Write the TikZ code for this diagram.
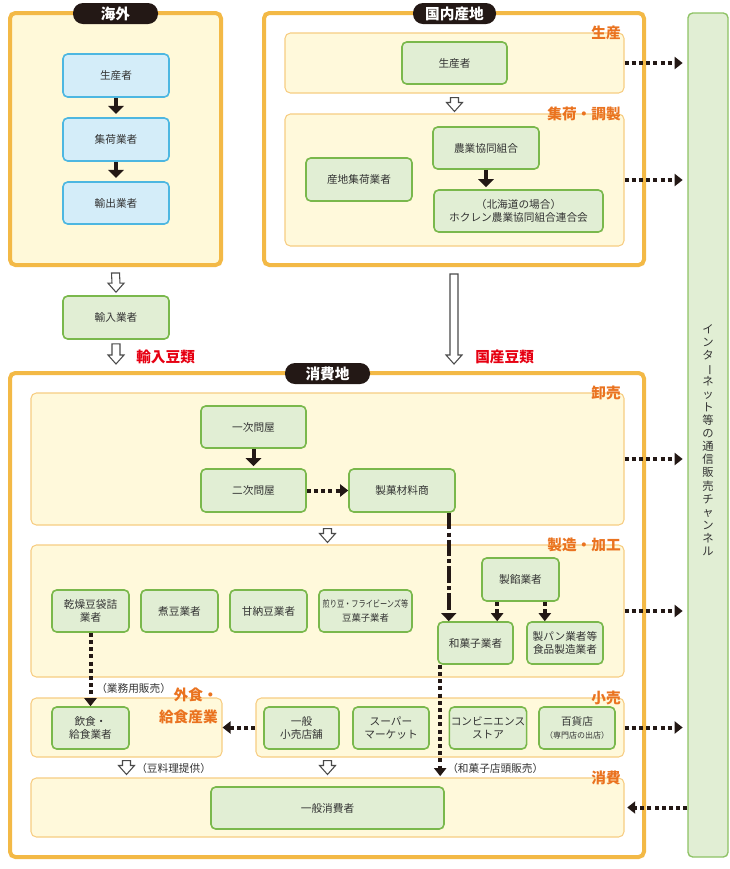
\documentclass[tikz,border=0pt]{standalone}
\usepackage{fontspec}
\setmainfont{Noto Sans CJK JP}
\usepackage{graphicx}
\usetikzlibrary{arrows.meta,calc}
\definecolor{ob}{HTML}{F3B946}
\definecolor{of}{HTML}{FFF9D9}
\definecolor{sb}{HTML}{F7CD82}
\definecolor{sf}{HTML}{FFF9DB}
\definecolor{gb}{HTML}{7AB84C}
\definecolor{gf}{HTML}{E1EED4}
\definecolor{bb}{HTML}{4DB7E1}
\definecolor{bf}{HTML}{D4EDF9}
\definecolor{cb}{HTML}{8DC264}
\definecolor{ot}{HTML}{EA7320}
\definecolor{rt}{HTML}{E60012}
\definecolor{dk}{HTML}{231815}
\definecolor{tx}{HTML}{333333}
\definecolor{ha}{HTML}{4A4A4A}
\newcommand\bx[7]{\node[#2, minimum width={(#5-#3)*0.75pt}, minimum height={(#6-#4)*0.75pt}] (#1) at ({(#3+#5)/2},{(#4+#6)/2}) {#7};}
\newcommand\harrow[2]{\draw[hollow] ($(#1)+(-4,0)$) -- ($(#2)+(-4,-9)$) -- ($(#2)+(-8,-9)$) -- (#2) -- ($(#2)+(8,-9)$) -- ($(#2)+(4,-9)$) -- ($(#1)+(4,0)$) -- cycle;}
\newcommand\vlong{\rotatebox[origin=c]{-90}{ー}}
\begin{document}
\begin{tikzpicture}[x=0.75pt, y=-0.75pt,
  every node/.style={font=\fontsize{8}{10}\selectfont, text=tx},
  outerbox/.style={draw=ob, line width=3pt, rounded corners=4pt},
  subbox/.style={draw=sb, fill=sf, line width=0.8pt, rounded corners=4pt},
  gbox/.style={draw=gb, fill=gf, line width=1.2pt, rounded corners=3.5pt, align=center, inner sep=1pt},
  bbox/.style={draw=bb, fill=bf, line width=1.2pt, rounded corners=3.5pt, align=center, inner sep=1pt},
  chbox/.style={draw=cb, fill=gf, line width=1pt, rounded corners=3.5pt},
  pill/.style={fill=dk, rounded corners=7.5pt, inner sep=0pt, text=white, font=\fontsize{11}{13}\selectfont\bfseries},
  grplabel/.style={text=ot, font=\fontsize{11}{13}\selectfont\bfseries, anchor=east, inner sep=0pt},
  redlabel/.style={text=rt, font=\fontsize{11}{13}\selectfont\bfseries, anchor=west, inner sep=0pt},
  note/.style={anchor=west, inner sep=0pt, font=\fontsize{8}{10}\selectfont},
  blk/.style={draw=dk, line width=3pt, -{Triangle[width=11.5pt,length=6pt]}},
  dotarr/.style={draw=dk, line width=3pt, dash pattern=on 3pt off 2.4pt, -{Triangle[width=9pt,length=6pt]}},
  ddarr/.style={draw=dk, line width=3pt, dash pattern=on 12.5pt off 2.3pt on 3pt off 2.3pt, -{Triangle[width=11pt,length=6pt]}},
  hollow/.style={draw=ha, fill=white, line width=0.8pt, line join=miter},
  vtext/.style={align=center, inner sep=0pt, font=\fontsize{8.5}{9.8}\selectfont}
]
\useasboundingbox (0,0) rectangle (730,869);

% outer groups
\bx{kaigai}{outerbox, fill=of}{10}{13}{221}{265}{}
\bx{kokunai}{outerbox, fill=white}{264}{13}{644}{265}{}
\bx{shohichi}{outerbox, fill=white}{10}{373}{644}{857}{}
\bx{channel}{chbox}{688}{13}{728}{857}{}
\node[vtext] (chtext) at ($(channel.center)+(0,5)$) {イ\\ン\\タ\\\vlong\\ネ\\ッ\\ト\\等\\の\\通\\信\\販\\売\\チ\\ャ\\ン\\ネ\\ル};

% header pills
\bx{pk}{pill}{73}{3}{158}{24}{海外}
\bx{pd}{pill}{413}{3}{496}{24}{国内産地}
\bx{ps}{pill}{285}{363}{370}{384}{消費地}

% sub boxes
\bx{seisan}{subbox}{285}{33}{624}{93}{}
\bx{shuka}{subbox}{285}{114}{624}{246}{}
\bx{oroshi}{subbox}{31}{393}{624}{525}{}
\bx{seizo}{subbox}{31}{545}{624}{677}{}
\bx{gaishoku}{subbox}{31}{698}{222}{757}{}
\bx{kouri}{subbox}{256}{698}{624}{757}{}
\bx{shohi}{subbox}{31}{778}{624}{837}{}

% group labels
\node[grplabel] (lseisan) at (621,33) {生産};
\node[grplabel] (lshuka) at (621,114) {集荷・調製};
\node[grplabel] (loroshi) at (621,393) {卸売};
\node[grplabel] (lseizo) at (621,545) {製造・加工};
\node[grplabel, align=right, font=\fontsize{11}{16}\selectfont\bfseries] (lgai) at (218,706) {外食・\\給食産業};
\node[grplabel] (lkouri) at (621,698) {小売};
\node[grplabel] (lshohi) at (621,778) {消費};

% overseas
\bx{b1}{bbox}{63}{54}{169}{97}{生産者}
\bx{b2}{bbox}{63}{118}{169}{161}{集荷業者}
\bx{b3}{bbox}{63}{182}{169}{224}{輸出業者}

% domestic
\bx{p1}{gbox}{402}{42}{507}{84}{生産者}
\bx{sanchi}{gbox}{306}{158}{412}{201}{産地集荷業者}
\bx{nokyo}{gbox}{433}{127}{539}{169}{農業協同組合}
\bx{hokuren}{gbox}{434}{190}{603}{232}{（北海道の場合）\\ホクレン農業協同組合連合会}

\bx{yunyu}{gbox}{63}{296}{169}{339}{輸入業者}

% wholesale
\bx{ichiji}{gbox}{201}{406}{306}{448}{一次問屋}
\bx{niji}{gbox}{201}{469}{306}{512}{二次問屋}
\bx{seika}{gbox}{349}{469}{455}{512}{製菓材料商}

% manufacturing
\bx{kanso}{gbox}{52}{590}{129}{632}{乾燥豆袋詰\\業者}
\bx{nimame}{gbox}{141}{590}{218}{632}{煮豆業者}
\bx{amanatto}{gbox}{230}{590}{307}{632}{甘納豆業者}
\bx{irimame}{gbox}{319}{590}{412}{632}{{\fontsize{7}{9}\selectfont\scalebox{0.77}[1]{煎り豆・フライビーンズ等}}\\{\fontsize{7}{9}\selectfont 豆菓子業者}}
\bx{seian}{gbox}{482}{558}{559}{601}{製餡業者}
\bx{wagashi}{gbox}{438}{622}{513}{664}{和菓子業者}
\bx{pan}{gbox}{527}{622}{603}{664}{製パン業者等\\食品製造業者}

% food service / retail
\bx{inshoku}{gbox}{52}{707}{129}{749}{飲食・\\給食業者}
\bx{ippan}{gbox}{264}{707}{339}{749}{一般\\小売店舗}
\bx{super}{gbox}{353}{707}{429}{749}{スーパー\\マーケット}
\bx{conv}{gbox}{450}{707}{526}{749}{コンビニエンス\\ストア}
\bx{hyakka}{gbox}{539}{707}{615}{749}{百貨店\\{\fontsize{6}{8}\selectfont （専門店の出店）}}

% consumption
\bx{consumer}{gbox}{211}{787}{444}{829}{一般消費者}

% red labels and notes
\node[redlabel] (r1) at (136,357) {輸入豆類};
\node[redlabel] (r2) at (475,357) {国産豆類};
\node[note] (n1) at (96,688) {（業務用販売）};
\node[note] (n2) at (136,768) {（豆料理提供）};
\node[note] (n3) at (447,768) {（和菓子店頭販売）};

% solid arrows
\draw[blk, shorten >=2.5pt] (b1) -- (b2);
\draw[blk, shorten >=2.5pt] (b2) -- (b3);
\draw[blk, shorten >=1.5pt] (nokyo.south) -- (nokyo.south |- hokuren.north);
\draw[blk, shorten >=1.5pt] (ichiji) -- (niji);

% hollow arrows
\coordinate (ha1) at ($(kaigai.south)+(0,6)$);
\coordinate (hb1) at ($(yunyu.north)+(0,-3)$);
\harrow{ha1}{hb1}
\coordinate (ha2) at ($(yunyu.south)+(0,4)$);
\coordinate (hb2) at ($(yunyu.south |- shohichi.north)+(0,-7)$);
\harrow{ha2}{hb2}
\coordinate (ha3) at ($(seisan.south)+(0,4)$);
\coordinate (hb3) at ($(shuka.north)+(0,-2)$);
\harrow{ha3}{hb3}
\coordinate (ha4) at ($(kokunai.south)+(0,7)$);
\coordinate (hb4) at ($(kokunai.south |- shohichi.north)+(0,-7)$);
\harrow{ha4}{hb4}
\coordinate (ha5) at ($(oroshi.south)+(0,3)$);
\coordinate (hb5) at ($(seizo.north)+(0,-2)$);
\harrow{ha5}{hb5}
\coordinate (ha6) at ($(gaishoku.south)+(0,3)$);
\coordinate (hb6) at ($(gaishoku.south |- shohi.north)+(0,-3)$);
\harrow{ha6}{hb6}
\coordinate (hb7) at ($(shohi.north)+(0,-3)$);
\coordinate (ha7) at ($(shohi.north |- kouri.south)+(0,3)$);
\harrow{ha7}{hb7}

% dotted arrows
\draw[dotarr] (niji) -- (seika);
\coordinate (s1) at ($(seian.south west)+(16,0)$);
\coordinate (s2) at ($(seian.south east)+(-15,0)$);
\draw[dotarr] (s1) -- (s1 |- wagashi.north);
\draw[dotarr] (s2) -- (s2 |- pan.north);
\coordinate (sk) at ($(seika.south east)+(-7,0)$);
\draw[ddarr] (sk) -- (sk |- wagashi.north);
\draw[dotarr] (kanso) -- (inshoku);
\coordinate (wk) at ($(wagashi.south west)+(3,0)$);
\draw[dotarr, shorten >=1pt] (wk) -- (wk |- shohi.north);
\draw[dotarr] (kouri.west) -- (gaishoku.east);
\foreach \s in {seisan,shuka,oroshi,seizo,kouri}
  \draw[dotarr, shorten >=3.5pt] (\s.east) -- (\s.east -| channel.west);
\draw[dotarr, shorten >=2pt] (shohi.east -| channel.west) -- (shohi.east);
\end{tikzpicture}
\end{document}
